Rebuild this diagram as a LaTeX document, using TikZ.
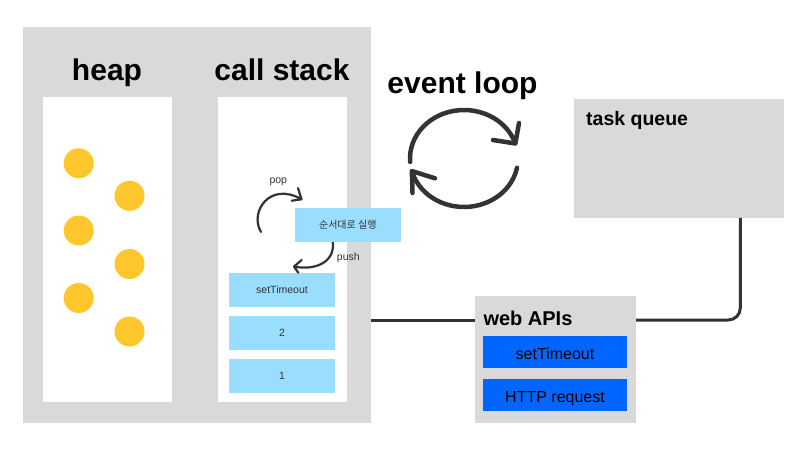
\documentclass[tikz,border=0pt]{standalone}
\usepackage{fontspec}
\setmainfont{Liberation Sans}
\newfontfamily\krfont{Noto Sans CJK KR}
\usetikzlibrary{calc}
\definecolor{panelgray}{HTML}{D9D9D9}
\definecolor{lightblue}{HTML}{99DDFF}
\definecolor{apiblue}{HTML}{0066FF}
\definecolor{coinyellow}{HTML}{FFC72C}
\definecolor{ink}{HTML}{333333}
\tikzset{
  panel/.style={fill=panelgray, draw=none, inner sep=0pt},
  whitebox/.style={fill=white, draw=none, inner sep=0pt},
  stackbox/.style={fill=lightblue, draw=none, inner sep=0pt, minimum width=106pt, minimum height=33.5pt, text height=7.5pt, text depth=0pt, font=\fontsize{10.5}{12}\selectfont, text=ink},
  apibox/.style={fill=apiblue, draw=none, inner sep=0pt, minimum width=144pt, minimum height=31.7pt, text height=14.6pt, text depth=0pt, font=\fontsize{16}{18}\selectfont, text=black},
  coin/.style={circle, fill=coinyellow, draw=none, minimum size=30pt, inner sep=0pt},
  bigtitle/.style={inner sep=0pt, anchor=base, font=\fontsize{30}{34}\selectfont\bfseries},
  midtitle/.style={inner sep=0pt, anchor=base west, font=\fontsize{19.5}{22}\selectfont\bfseries},
  small/.style={inner sep=0pt, anchor=base, font=\fontsize{10.5}{12}\selectfont, text=ink},
  conn/.style={draw=ink, line width=3pt},
  loop/.style={draw=ink, line width=4.5pt, line cap=round, line join=round},
  minor/.style={draw=ink, line width=2.2pt, line cap=round, line join=round}
}
\begin{document}
\begin{tikzpicture}[x=1pt,y=-1pt]
\useasboundingbox[fill=white] (0,0) rectangle (800,450);

% left panel
\node[panel, minimum width=348pt, minimum height=396pt] (panel) at (196.7,224.7) {};
\node[whitebox, minimum width=129.3pt, minimum height=305pt] (heapbox) at (107.35,249.2) {};
\node[whitebox, minimum width=129pt, minimum height=305pt] (stackarea) at (282.5,249.2) {};
\node[bigtitle] (heaplbl) at (107,80) {heap};
\node[bigtitle] (stacklbl) at (282,80) {call stack};

% heap objects
\node[coin] (c1) at (78.7,163.3) {};
\node[coin] (c2) at (129.5,195.8) {};
\node[coin] (c3) at (78.7,230.5) {};
\node[coin] (c4) at (129.5,264) {};
\node[coin] (c5) at (78.7,298) {};
\node[coin] (c6) at (129.5,331.5) {};

% stack frames
\node[stackbox] (s3) at (282,289.8) {setTimeout};
\node[stackbox] (s2) at (282,333) {2};
\node[stackbox] (s1) at (282,376) {1};

% pop / push arrows
\draw[minor] (261,232) .. controls (249,212) and (270,181) .. (301.5,199.3)
  coordinate (poptip) -- (291.7,200.7) (poptip) -- (298,188);
\draw[minor] (332,238) .. controls (338,262) and (315,271) .. (294,266.5)
  coordinate (pushtip) -- (301.7,260) (pushtip) -- (298.3,272.7);
\node[small] (poplbl) at (278.3,183) {pop};
\node[small] (pushlbl) at (348.3,260) {push};

\node[stackbox, minimum width=105.7pt, minimum height=34pt, text height=8pt, font=\krfont\fontsize{10}{12}\selectfont] (run) at (347.8,224.7) {순서대로 실행};

% event loop
\node[bigtitle] (looplbl) at (462.5,93.3) {event loop};
\draw[loop] (464,158.5) ++(176:54 and 48.5) arc[start angle=176, end angle=342, x radius=54, y radius=48.5]
  coordinate (ltip1) -- (493,140) (ltip1) -- (519,123);
\draw[loop] (464,158.5) ++(11:54 and 48.5) arc[start angle=11, end angle=165, x radius=54, y radius=48.5]
  coordinate (ltip2) -- (435,178.3) (ltip2) -- (412.5,193);

% task queue
\node[panel, minimum width=210pt, minimum height=118.7pt] (task) at (679,158.3) {};
\node[midtitle] (tasklbl) at (586,125.7) {task queue};

% web APIs
\node[panel, minimum width=161pt, minimum height=126.7pt] (web) at (555.5,359.3) {};
\node[midtitle, font=\fontsize{20}{22}\selectfont\bfseries] (weblbl) at (483.3,325) {web APIs};
\node[apibox] (api1) at (555,351.8) {setTimeout};
\node[apibox] (api2) at (555,394.8) {HTTP request};

% connectors
\coordinate (ly) at (0,320);
\coordinate (lx) at (740.3,0);
\draw[conn] (panel.east |- ly) -- (web.west |- ly);
\draw[conn, rounded corners=12pt] (web.east |- ly) -- (lx |- ly) -- (lx |- task.south);
\end{tikzpicture}
\end{document}
